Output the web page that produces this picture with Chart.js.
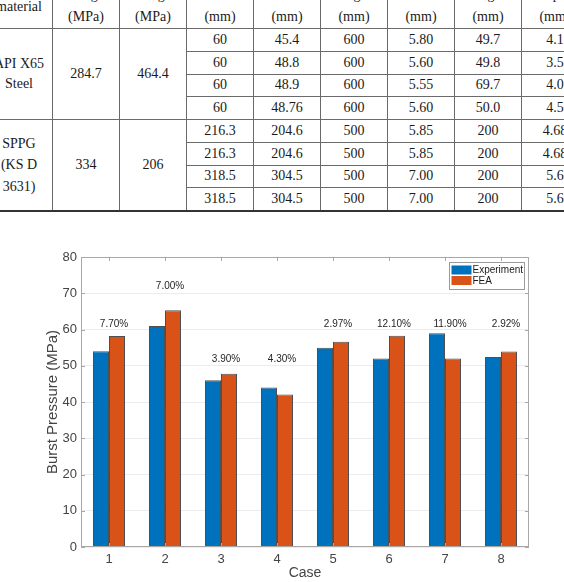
<!DOCTYPE html>
<html>
<head>
<meta charset="utf-8">
<script src="https://cdn.jsdelivr.net/npm/chart.js@4.4.1/dist/chart.umd.min.js"></script>
<style>
    body { margin: 0; width: 564px; height: 582px; overflow: hidden; background: #fff; position: relative; }
    #specs { position: absolute; left: -15px; top: -39px; width: 603px; border-collapse: collapse; table-layout: fixed;
             font-family: "Liberation Serif", serif; font-size: 14px; color: #1a1a1a; }
    #specs col { width: 67px; }
    #specs td { border: 1px solid #6a6a6a; padding: 0; text-align: center; vertical-align: middle;
                height: 21.75px; line-height: 20px; white-space: nowrap; overflow: hidden; }
    #specs tr.head td { height: 59px; line-height: 22px; vertical-align: bottom; }
    #specs tr.head td.first { padding-bottom: 10px; height: 49px; }
    #specs tr.last td { border-bottom: 2px solid #333; }
    #chartBox { position: absolute; left: 0; top: 240px; width: 564px; height: 342px; }
</style>
</head>
<body>
<table id="specs"></table>
<div id="chartBox"><canvas id="burstChart" width="564" height="342"></canvas></div>
<script>
// table data
const tableHeads = [['Pipe', 'material'], ['Yield', 'strength', '(MPa)'], ['Tensile', 'strength', '(MPa)'],
    ['Outer', 'diameter', '(mm)'], ['Inner', 'diameter', '(mm)'], ['Pipe', 'length', '(mm)'],
    ['Wall', 'thickness', '(mm)'], ['Defect', 'length', '(mm)'], ['Defect', 'depth', '(mm)']];
const materialNames = [['API X65', 'Steel'], ['SPPG', '(KS D', '3631)']];
const yieldStrength = ['284.7', '334'];
const tensileStrength = ['464.4', '206'];
const outerDia = ['60', '60', '60', '60', '216.3', '216.3', '318.5', '318.5'];
const innerDia = ['45.4', '48.8', '48.9', '48.76', '204.6', '204.6', '304.5', '304.5'];
const pipeLength = ['600', '600', '600', '600', '500', '500', '500', '500'];
const thickness = ['5.80', '5.60', '5.55', '5.60', '5.85', '5.85', '7.00', '7.00'];
const defectLength = ['49.7', '49.8', '69.7', '50.0', '200', '200', '200', '200'];
const defectDepth = ['4.1', '3.5', '4.0', '4.5', '4.68', '4.68', '5.6', '5.6'];

// chart data
const cases = ['1', '2', '3', '4', '5', '6', '7', '8'];
const experiment = [54.0, 61.0, 46.0, 44.0, 55.0, 52.0, 59.0, 52.4];
const fea = [58.2, 65.3, 47.8, 42.1, 56.6, 58.3, 52.0, 53.9];
const errorLabels = ['7.70%', '7.00%', '3.90%', '4.30%', '2.97%', '12.10%', '11.90%', '2.92%'];
const errorLabelY = [61.5, 71.8, 51.7, 51.7, 61.5, 61.5, 61.5, 61.5];

// build the table
const table = document.getElementById('specs');
let html = '<colgroup>' + tableHeads.map(() => '<col>').join('') + '</colgroup>';
html += '<tr class="head">' + tableHeads.map((h, i) =>
    '<td' + (i === 0 ? ' class="first"' : '') + '>' + h.join('<br>') + '</td>').join('') + '</tr>';
const rowsPerGroup = 4;
for (let i = 0; i < outerDia.length; i++) {
    const g = Math.floor(i / rowsPerGroup);
    const cls = (i === outerDia.length - 1) ? ' class="last"' : '';
    html += '<tr' + cls + '>';
    if (i % rowsPerGroup === 0) {
        const lh = materialNames[g].length > 2 ? 'line-height:21.5px;' : '';
        const last = g === materialNames.length - 1 ? 'border-bottom:2px solid #333;' : '';
        html += '<td rowspan="4" style="' + lh + last + '">' + materialNames[g].join('<br>') + '</td>';
        html += '<td rowspan="4" style="' + last + '">' + yieldStrength[g] + '</td>';
        html += '<td rowspan="4" style="' + last + '">' + tensileStrength[g] + '</td>';
    }
    html += [outerDia[i], innerDia[i], pipeLength[i], thickness[i], defectLength[i], defectDepth[i]]
        .map(v => '<td>' + v + '</td>').join('');
    html += '</tr>';
}
table.innerHTML = html;

// MATLAB-like box, inward ticks, labels and legend
const tickColor = '#444444';
const axisColor = '#a8a8a8';
const expColor = '#0072BD';
const feaColor = '#D95319';

const matlabAxes = {
    id: 'matlabAxes',
    afterDatasetsDraw(chart) {
        const {ctx, chartArea: a, scales: {x, y}} = chart;
        const line = (x1, y1, x2, y2) => { ctx.beginPath(); ctx.moveTo(x1, y1); ctx.lineTo(x2, y2); ctx.stroke(); };
        ctx.save();
        ctx.strokeStyle = axisColor;
        ctx.lineWidth = 1;
        ctx.strokeRect(Math.round(a.left) + 0.5, Math.round(a.top) + 0.5,
            Math.round(a.width) - 1, Math.round(a.height) - 1);
        y.ticks.forEach(t => {
            const py = Math.round(y.getPixelForValue(t.value)) + 0.5;
            line(a.left, py, a.left + 4, py);
            line(a.right - 4, py, a.right, py);
        });
        cases.forEach((c, i) => {
            const px = Math.round(x.getPixelForValue(i)) + 0.5;
            line(px, a.bottom, px, a.bottom - 4);
            line(px, a.top, px, a.top + 4);
        });

        // error labels
        ctx.fillStyle = '#262626';
        ctx.font = '10px "Liberation Sans", Arial, sans-serif';
        ctx.textAlign = 'center';
        ctx.textBaseline = 'middle';
        errorLabels.forEach((t, i) => {
            ctx.fillText(t, x.getPixelForValue(i) + 5, y.getPixelForValue(errorLabelY[i]));
        });

        // legend, top right inside the axes
        const lw = 75, lh = 27;
        const lx = Math.round(a.right - 5 - lw) + 0.5, ly = Math.round(a.top + 5) + 0.5;
        ctx.fillStyle = '#ffffff';
        ctx.fillRect(lx, ly, lw, lh);
        ctx.strokeStyle = '#9a9a9a';
        ctx.strokeRect(lx, ly, lw, lh);
        ctx.textAlign = 'left';
        chart.data.datasets.forEach((ds, i) => {
            const sy = ly + 3 + i * 10.5;
            ctx.fillStyle = ds.backgroundColor;
            ctx.fillRect(lx + 2, sy, 20, 9);
            ctx.fillStyle = '#1a1a1a';
            ctx.fillText(ds.label, lx + 23, sy + 5);
        });
        ctx.restore();
    }
};

new Chart(document.getElementById('burstChart'), {
    type: 'bar',
    data: {
        labels: cases,
        datasets: [{
            label: 'Experiment',
            data: experiment,
            backgroundColor: expColor,
            borderColor: 'rgba(20, 20, 20, 0.75)',
            borderWidth: 1,
            categoryPercentage: 0.5714,
            barPercentage: 1.0
        }, {
            label: 'FEA',
            data: fea,
            backgroundColor: feaColor,
            borderColor: 'rgba(20, 20, 20, 0.75)',
            borderWidth: 1,
            categoryPercentage: 0.5714,
            barPercentage: 1.0
        }]
    },
    options: {
        responsive: false,
        animation: false,
        layout: { padding: { top: 17, right: 35, left: 0, bottom: 0 } },
        plugins: {
            legend: { display: false },
            tooltip: { enabled: false }
        },
        scales: {
            x: {
                grid: { display: false, drawTicks: false },
                border: { display: false },
                ticks: { color: tickColor, padding: 5, font: { family: '"Liberation Sans", Arial', size: 13 } },
                title: { display: true, text: 'Case', color: tickColor, padding: 0,
                         font: { family: '"Liberation Sans", Arial', size: 14 } },
                afterFit: function(scale) { scale.height = 35; }
            },
            y: {
                min: 0,
                max: 80,
                grid: { color: '#ececec', drawTicks: false },
                border: { display: false },
                ticks: { stepSize: 10, color: tickColor, padding: 4, font: { family: '"Liberation Sans", Arial', size: 13 } },
                title: { display: true, text: 'Burst Pressure (MPa)', color: tickColor, padding: { top: 44, bottom: 0 },
                         font: { family: '"Liberation Sans", Arial', size: 15 } },
                afterFit: function(scale) { scale.width = 81; }
            }
        }
    },
    plugins: [matlabAxes]
});
</script>
</body>
</html>
